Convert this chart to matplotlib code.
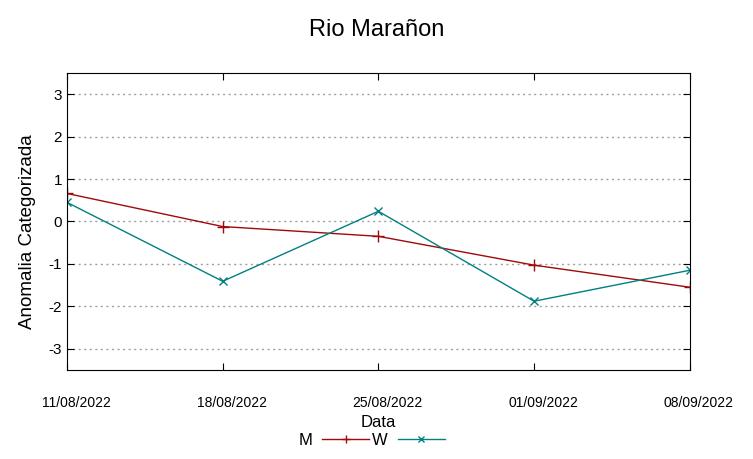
import matplotlib
matplotlib.use("Agg")
import matplotlib.pyplot as plt
from matplotlib.transforms import ScaledTranslation

plt.rcParams['font.family'] = ['Liberation Sans', 'DejaVu Sans']

dates = ['11/08/2022', '18/08/2022', '25/08/2022', '01/09/2022', '08/09/2022']
m_vals = [0.66, -0.12, -0.35, -1.03, -1.55]
w_vals = [0.45, -1.41, 0.24, -1.88, -1.15]
yticks = [-3, -2, -1, 0, 1, 2, 3]

x = list(range(len(dates)))

fig = plt.figure(figsize=(7.53, 4.59), dpi=100)
ax = fig.add_axes([0.089, 0.194, 0.827, 0.647])

ax.plot(x, m_vals, color='#a00a0a', lw=1, marker='+', ms=8, mew=1, label='M')
ax.plot(x, w_vals, color='#008080', lw=1, marker='x', ms=6, mew=1, label='W')

ax.set_xlim(0, len(dates) - 1)
ax.set_ylim(-3.5, 3.5)
ax.set_yticks(yticks)
ax.set_yticklabels([str(v) for v in yticks], fontsize=11)
ax.set_xticks(x)
ax.set_xticklabels(dates, fontsize=10)
ax.tick_params(axis='x', direction='in', top=True, pad=19, length=5)
ax.tick_params(axis='y', direction='in', right=True, length=5)
# gnuplot shifts the date labels a bit to the right
shift = ScaledTranslation(9 / 100, 0, fig.dpi_scale_trans)
for lbl in ax.get_xticklabels():
    lbl.set_transform(lbl.get_transform() + shift)
ax.grid(axis='y', color='#a0a0a0', linestyle=(0, (1.5, 2.5)), lw=1)

ax.set_xlabel('Data', fontsize=12, labelpad=3)
ax.set_ylabel('Anomalia Categorizada', fontsize=13.5)
ax.yaxis.set_label_coords(-0.050, 0.465)
fig.suptitle('Rio Marañon', fontsize=17, y=0.958)

leg = ax.legend(loc='center', bbox_to_anchor=(0.489, -0.236), ncol=2,
                frameon=False, markerfirst=False, fontsize=12,
                handlelength=2.8, columnspacing=0.2, handletextpad=0.6,
                borderaxespad=0, borderpad=0, markerscale=0.8)

fig.savefig('out.png', dpi=100)
